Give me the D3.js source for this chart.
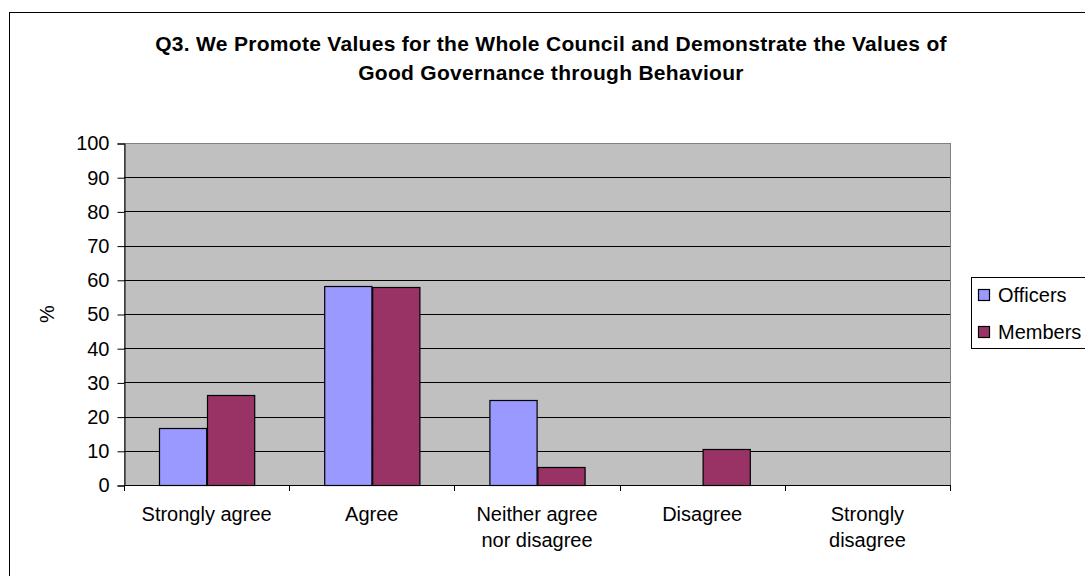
<!DOCTYPE html>
<html>
<head>
<meta charset="utf-8">
<script src="https://cdn.jsdelivr.net/npm/d3@7"></script>
<style>
  html, body { margin: 0; padding: 0; background: #fff; }
  svg { display: block; font-family: "Liberation Sans", Arial, sans-serif; }
</style>
</head>
<body>
<svg id="chart" width="1085" height="576"></svg>
<script>
// Survey responses, percentage of each group
const categories = ["Strongly agree", "Agree", "Neither agree nor disagree", "Disagree", "Strongly disagree"];
const categoryLines = [["Strongly agree"], ["Agree"], ["Neither agree", "nor disagree"], ["Disagree"], ["Strongly", "disagree"]];
const seriesNames = ["Officers", "Members"];
const officers = [16.7, 58.3, 25.0, 0, 0];
const members = [26.3, 57.9, 5.3, 10.5, 0];
const yTicks = [0, 10, 20, 30, 40, 50, 60, 70, 80, 90, 100];
const titleLines = [
  "Q3. We Promote Values for the Whole Council and Demonstrate the Values of",
  "Good Governance through Behaviour"
];
const colors = { Officers: "#9999ff", Members: "#993366" };

const svg = d3.select("#chart");

// Outer chart frame
svg.append("rect")
  .attr("x", 9.5).attr("y", 12.5)
  .attr("width", 1100).attr("height", 600)
  .attr("fill", "#fff").attr("stroke", "#000").attr("stroke-width", 1);

const plot = { left: 124, right: 950, top: 143, bottom: 485 };

const x0 = d3.scaleBand().domain(categories).range([plot.left, plot.right]).padding(0);
const x1 = d3.scaleBand().domain(seriesNames).range([0, x0.bandwidth()]).paddingInner(0).paddingOuter(0.75);
const y = d3.scaleLinear().domain([0, 100]).range([plot.bottom, plot.top]);

// Plot background
svg.append("rect")
  .attr("x", plot.left).attr("y", plot.top)
  .attr("width", plot.right - plot.left).attr("height", plot.bottom - plot.top)
  .attr("fill", "#c0c0c0").attr("stroke", "#808080").attr("stroke-width", 1)
  .attr("shape-rendering", "crispEdges");

// Horizontal gridlines
svg.append("g")
  .selectAll("line")
  .data(yTicks.filter(t => t > 0 && t < 100))
  .join("line")
  .attr("x1", plot.left).attr("x2", plot.right)
  .attr("y1", d => Math.round(y(d)) + 0.5).attr("y2", d => Math.round(y(d)) + 0.5)
  .attr("stroke", "#000").attr("stroke-width", 1);

// Bars
const rows = categories.map((c, i) => ({ cat: c, values: [
  { name: "Officers", value: officers[i] },
  { name: "Members", value: members[i] }
] }));

const groups = svg.append("g").selectAll("g")
  .data(rows)
  .join("g")
  .attr("transform", d => `translate(${x0(d.cat)},0)`);

groups.selectAll("rect")
  .data(d => d.values.filter(v => v.value > 0))
  .join("rect")
  .attr("x", d => Math.round(x1(d.name)) + 0.5)
  .attr("y", d => Math.round(y(d.value)) + 0.5)
  .attr("width", x1.bandwidth())
  .attr("height", d => Math.round(y(0)) - Math.round(y(d.value)))
  .attr("fill", d => colors[d.name])
  .attr("stroke", "#000").attr("stroke-width", 1.2);

// Y axis
const yAxis = d3.axisLeft(y).tickValues(yTicks).tickSize(7).tickPadding(8);
const gy = svg.append("g")
  .attr("transform", `translate(${plot.left + 0.5},0.5)`)
  .call(yAxis);
gy.select(".domain").attr("stroke", "#000");
gy.selectAll(".tick line").attr("stroke", "#000");
gy.selectAll(".tick text")
  .attr("font-size", 20).attr("fill", "#000")
  .attr("font-family", "Liberation Sans, Arial, sans-serif");

// X axis line and category boundary ticks
const boundaries = categories.map(c => x0(c)).concat([plot.right]);
svg.append("line")
  .attr("x1", plot.left).attr("x2", plot.right)
  .attr("y1", plot.bottom + 0.5).attr("y2", plot.bottom + 0.5)
  .attr("stroke", "#000");
svg.append("g").selectAll("line")
  .data(boundaries)
  .join("line")
  .attr("x1", d => Math.round(d) + 0.5).attr("x2", d => Math.round(d) + 0.5)
  .attr("y1", plot.bottom).attr("y2", plot.bottom + 6)
  .attr("stroke", "#000");

// Category labels
const xl = svg.append("g").selectAll("text")
  .data(categories.map((c, i) => ({ cat: c, lines: categoryLines[i] })))
  .join("text")
  .attr("text-anchor", "middle")
  .attr("font-size", 20)
  .attr("fill", "#000")
  .attr("x", d => x0(d.cat) + x0.bandwidth() / 2)
  .attr("y", 521);
xl.selectAll("tspan")
  .data(d => d.lines.map(l => ({ l, x: x0(d.cat) + x0.bandwidth() / 2 })))
  .join("tspan")
  .attr("x", d => d.x)
  .attr("dy", (d, i) => i === 0 ? 0 : 26)
  .text(d => d.l);

// Y axis title
svg.append("text")
  .attr("transform", `translate(54,${(plot.top + plot.bottom) / 2}) rotate(-90)`)
  .attr("text-anchor", "middle")
  .attr("font-size", 20)
  .attr("fill", "#000")
  .text("%");

// Chart title
svg.append("g").selectAll("text")
  .data(titleLines)
  .join("text")
  .attr("x", 551)
  .attr("y", (d, i) => 51 + i * 29)
  .attr("text-anchor", "middle")
  .attr("font-size", 21)
  .attr("font-weight", "bold")
  .attr("letter-spacing", 0.3)
  .attr("fill", "#000")
  .text(d => d);

// Legend
const legend = svg.append("g");
legend.append("rect")
  .attr("x", 971.5).attr("y", 277.5)
  .attr("width", 140).attr("height", 71)
  .attr("fill", "#fff").attr("stroke", "#000");
const li = legend.selectAll("g.item")
  .data(seriesNames)
  .join("g").attr("class", "item")
  .attr("transform", (d, i) => `translate(0,${i * 37})`);
li.append("rect")
  .attr("x", 978.5).attr("y", 289.5)
  .attr("width", 11).attr("height", 11)
  .attr("fill", d => colors[d]).attr("stroke", "#000").attr("stroke-width", 1.2);
li.append("text")
  .attr("x", 998).attr("y", 302)
  .attr("font-size", 20)
  .attr("fill", "#000")
  .text(d => d);
</script>
</body>
</html>
